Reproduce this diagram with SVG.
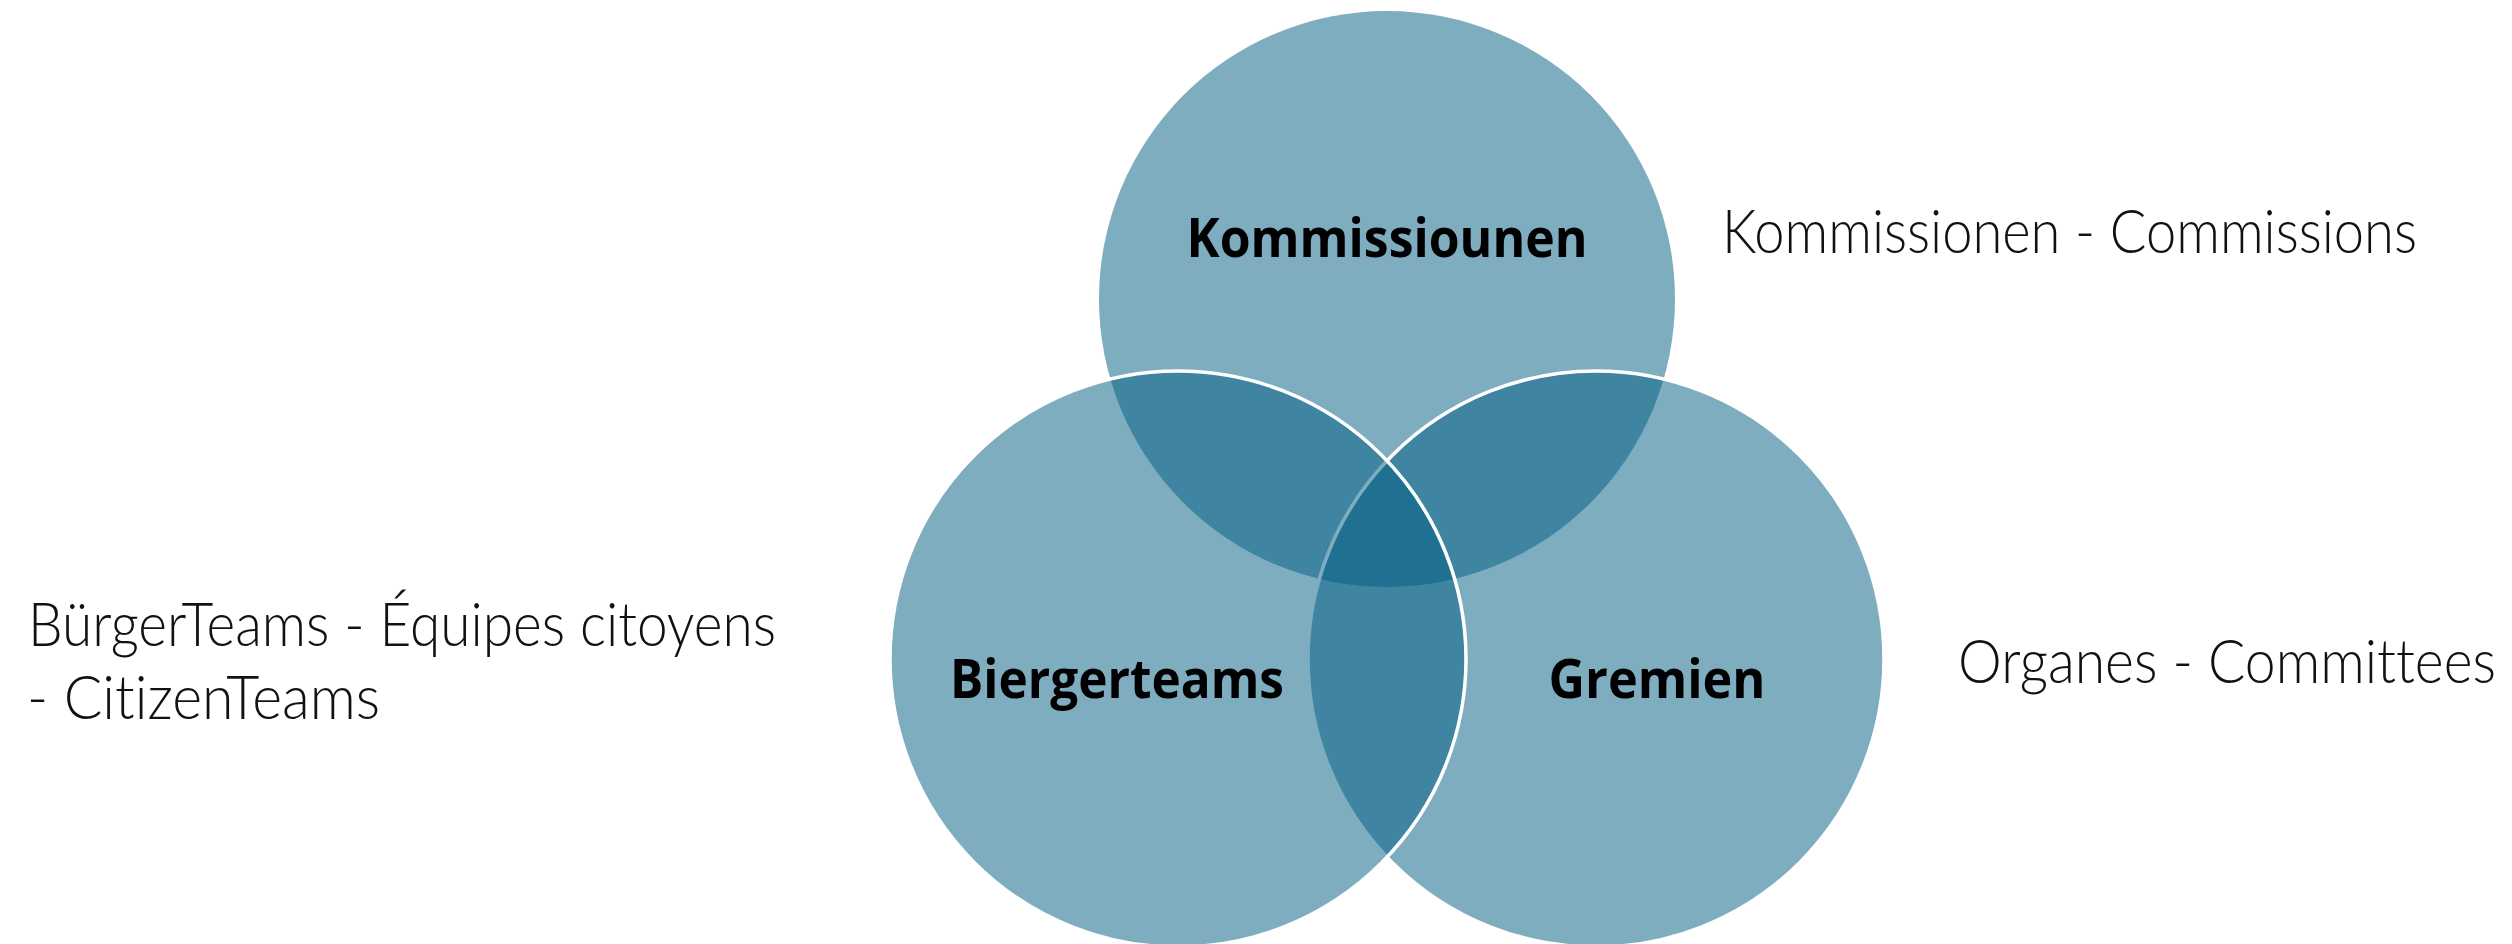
<svg xmlns="http://www.w3.org/2000/svg" width="2512" height="944" viewBox="0 0 2512 944">
  <style>
    .set { fill: #005B81; fill-opacity: 0.5; }
    .edge { stroke: #FFFFFF; stroke-width: 3.5; }
    .name { font-family: "Open Sans", "Noto Sans", "Liberation Sans", sans-serif; font-weight: 700; font-size: 53px; fill: #000000; text-anchor: middle; }
    .note { font-family: Lato, "Open Sans", "Liberation Sans", sans-serif; font-weight: 300; font-size: 61px; fill: #111111; font-variant-ligatures: none; font-feature-settings: "liga" 0, "clig" 0; }
  </style>
  <rect width="2512" height="944" fill="#FFFFFF"/>
  <g id="connectors"></g>
  <g id="node-kommissiounen">
    <circle class="set" cx="1387" cy="299" r="288"/>
  </g>
  <g id="node-gremien">
    <circle class="set edge" cx="1596" cy="659" r="288"/>
  </g>
  <g id="node-biergerteams">
    <circle class="set edge" cx="1178" cy="659" r="288"/>
  </g>
  <g id="labels">
    <text class="name" x="1387" y="257" textLength="401" lengthAdjust="spacingAndGlyphs">Kommissiounen</text>
    <text class="name" x="1117" y="698" textLength="334" lengthAdjust="spacingAndGlyphs">Biergerteams</text>
    <text class="name" x="1657" y="698" textLength="217" lengthAdjust="spacingAndGlyphs">Gremien</text>
  </g>
  <g id="notes">
    <text class="note" x="1722" y="253" textLength="695" lengthAdjust="spacingAndGlyphs">Kommissionen - Commissions</text>
    <text class="note" x="1958" y="683" textLength="538" lengthAdjust="spacingAndGlyphs">Organes - Committees</text>
    <text class="note" x="28" y="646" textLength="748" lengthAdjust="spacingAndGlyphs">BürgerTeams - Équipes citoyens</text>
    <text class="note" x="27" y="719" textLength="353" lengthAdjust="spacingAndGlyphs">- CitizenTeams</text>
  </g>
</svg>
